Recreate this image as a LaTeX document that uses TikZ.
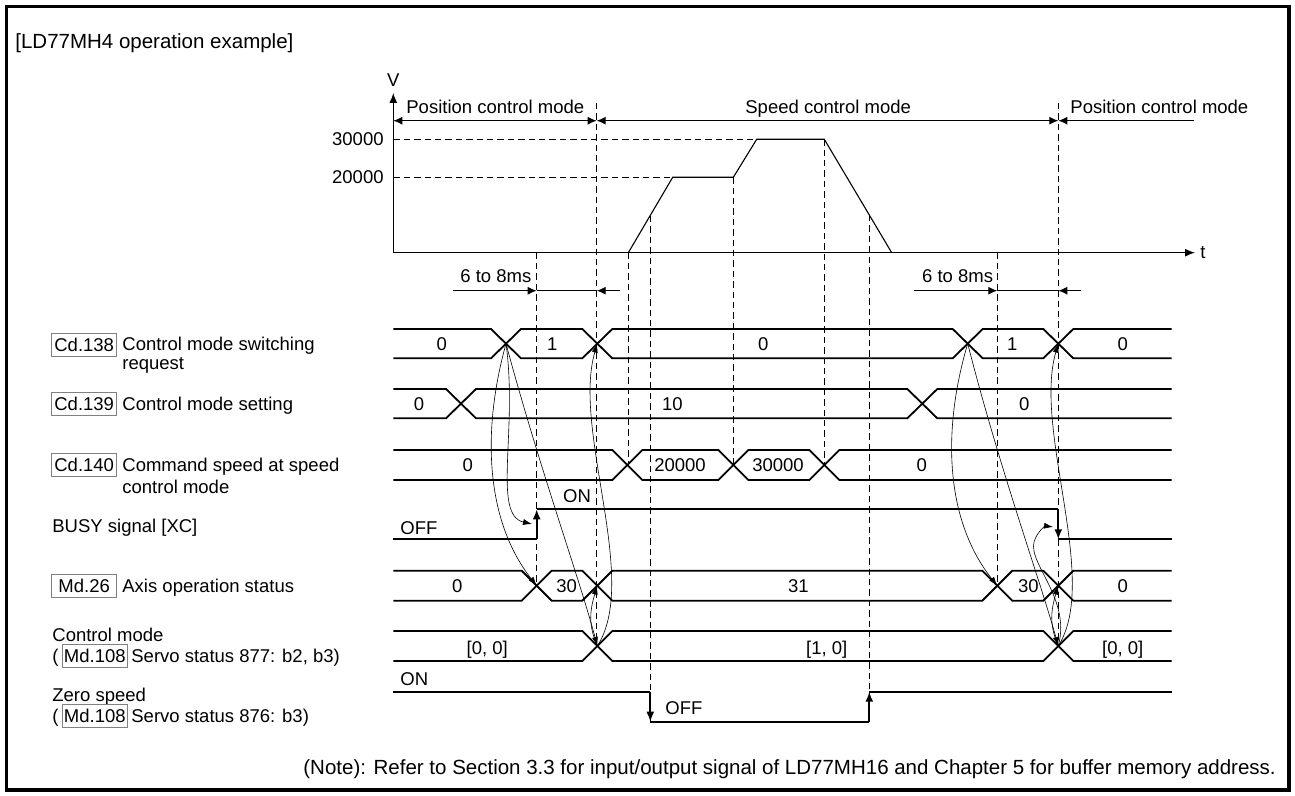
\documentclass[tikz,border=0pt]{standalone}
\usepackage{fontspec}
\setmainfont{Liberation Sans}
\usetikzlibrary{arrows.meta}
\begin{document}
\begin{tikzpicture}[x=0.5pt,y=-0.5pt,
  sig/.style={line width=0.9pt, line join=miter},
  axisline/.style={line width=0.55pt},
  dline/.style={line width=0.5pt, dash pattern=on 3.2pt off 2pt},
  cur/.style={line width=0.3pt, -{Latex[length=4.5pt,width=3pt]}},
  bigtip/.style={-{Latex[length=5pt,width=4pt]}},
  lbl/.style={font=\fontsize{9.25}{10.5}\selectfont, inner sep=0pt},
  tag/.style={draw=gray, line width=0.4pt, minimum width=32.5pt, minimum height=11.5pt, inner sep=0pt, font=\fontsize{9.25}{10.5}\selectfont}
]
\useasboundingbox (0,0) rectangle (1295,796);
\draw[line width=1.6pt] (6.5,6.5) rectangle (1289,790);

% title
\node[lbl, font=\fontsize{10.25}{12}\selectfont, anchor=base west] (title) at (15,48.3) {[LD77MH4 operation example]};

% ---------- speed graph ----------
\node[lbl] (vlab) at (393.3,80) {V};
\coordinate (orig) at (393.3,252.7);
\coordinate (vtop) at (393.3,93);
\coordinate (tend) at (1195,252.7);
\draw[axisline, bigtip] (orig) -- (vtop);
\draw[axisline, bigtip] (orig) -- (tend);
\node[lbl, anchor=west] (tlab) at (1200,252.7) {t};

\node[lbl, anchor=east] (v30) at (384,139.3) {30000};
\node[lbl, anchor=east] (v20) at (384,177.3) {20000};
\draw[dline] (393.3,139.3) -- (756.7,139.3);
\draw[dline] (393.3,177.3) -- (672.7,177.3);
\draw[axisline] (628.3,252.7) -- (672.7,177.3) -- (733.3,177.3) -- (756.7,139.3) -- (824.3,139.3) -- (891.7,252.7);

% mode arrows
\coordinate (mA) at (393.3,120.7);
\coordinate (mB) at (596.7,120.7);
\coordinate (mC) at (1058.3,120.7);
\coordinate (mD) at (1194.3,120.7);
\draw[axisline, {Latex[length=4.5pt,width=4pt]}-{Latex[length=4.5pt,width=4pt]}] (mA) -- (mB);
\draw[axisline, {Latex[length=4.5pt,width=4pt]}-{Latex[length=4.5pt,width=4pt]}] (mB) -- (mC);
\draw[axisline, {Latex[length=4.5pt,width=4pt]}-] (mC) -- (mD);
\node[lbl, anchor=base west] (pcm1) at (406,113.3) {Position control mode};
\node[lbl, anchor=base west] (scm) at (745,113.3) {Speed control mode};
\node[lbl, anchor=base west] (pcm2) at (1070,113.3) {Position control mode};

% dashed verticals
\draw[dline] (596.7,103) -- (596.7,646);
\draw[dline] (1058.3,103) -- (1058.3,646);
\draw[dline] (536.7,252.7) -- (536.7,585.7);
\draw[dline] (628,252.7) -- (628,465);
\draw[dline] (650.3,216) -- (650.3,721.7);
\draw[dline] (733.3,177.3) -- (733.3,465);
\draw[dline] (824.3,139.3) -- (824.3,465);
\draw[dline] (869.3,215) -- (869.3,721.7);
\draw[dline] (997.3,252.7) -- (997.3,585.7);

% 6 to 8 ms
\draw[axisline, -{Latex[length=4.5pt,width=4pt]}] (452.7,290.7) -- (536.7,290.7);
\draw[axisline] (536.7,290.7) -- (596.7,290.7);
\draw[axisline, -{Latex[length=4.5pt,width=4pt]}] (620,290.7) -- (596.7,290.7);
\node[lbl, anchor=base west] (d1) at (460,282.6) {6 to 8ms};
\draw[axisline, -{Latex[length=4.5pt,width=4pt]}] (914,290.7) -- (997.3,290.7);
\draw[axisline] (997.3,290.7) -- (1058.3,290.7);
\draw[axisline, -{Latex[length=4.5pt,width=4pt]}] (1081,290.7) -- (1058.3,290.7);
\node[lbl, anchor=base west] (d2) at (921.7,282.6) {6 to 8ms};

% ---------- left labels ----------
\node[tag] (t138) at (84.2,344.5) {Cd.138};
\node[lbl, anchor=base west] (l138a) at (122,351) {Control mode switching};
\node[lbl, anchor=base west] (l138b) at (122,370) {request};
\node[tag] (t139) at (84.2,403.5) {Cd.139};
\node[lbl, anchor=base west] (l139) at (122,410) {Control mode setting};
\node[tag] (t140) at (84.2,465) {Cd.140};
\node[lbl, anchor=base west] (l140a) at (122,471.6) {Command speed at speed};
\node[lbl, anchor=base west] (l140b) at (122,493) {control mode};
\node[lbl, anchor=base west] (lbusy) at (52,532.6) {BUSY signal [XC]};
\node[tag] (t26) at (84.2,585.7) {Md.26};
\node[lbl, anchor=base west] (l26) at (122,592.3) {Axis operation status};
\node[lbl, anchor=base west] (lcm) at (52,641.6) {Control mode};
\node[lbl, anchor=base west] (lcmp) at (52,662.6) {(};
\node[tag] (t108a) at (94.8,656) {Md.108};
\node[lbl, anchor=base west] (lcmb) at (131,662.6) {Servo status 877: b2, b3)};
\node[lbl, anchor=base west] (lzs) at (52,701.6) {Zero speed};
\node[lbl, anchor=base west] (lzsp) at (52,722.6) {(};
\node[tag] (t108b) at (94.8,716) {Md.108};
\node[lbl, anchor=base west] (lzsb) at (131,722.6) {Servo status 876: b3)};

% ---------- signals ----------
% Cd.138  yt=329 yb=358.3
\draw[sig] (393.3,329) -- (491,329) -- (521,358.3) -- (582.3,358.3) -- (612.3,329) -- (952.7,329) -- (982.7,358.3) -- (1043.3,358.3) -- (1073.3,329) -- (1171.7,329);
\draw[sig] (393.3,358.3) -- (491,358.3) -- (521,329) -- (582.3,329) -- (612.3,358.3) -- (952.7,358.3) -- (982.7,329) -- (1043.3,329) -- (1073.3,358.3) -- (1171.7,358.3);
\node[lbl] at (441.7,344.3) {0};
\node[lbl] at (552.3,344.3) {1};
\node[lbl] at (763.3,344.3) {0};
\node[lbl] at (1012.3,344.3) {1};
\node[lbl] at (1122.7,344.3) {0};

% Cd.139 yt=389 yb=418.3
\draw[sig] (393.3,389) -- (446,389) -- (476,418.3) -- (907.3,418.3) -- (937.3,389) -- (1171.7,389);
\draw[sig] (393.3,418.3) -- (446,418.3) -- (476,389) -- (907.3,389) -- (937.3,418.3) -- (1171.7,418.3);
\node[lbl] at (419,404) {0};
\node[lbl] at (672.3,404) {10};
\node[lbl] at (1024.3,404) {0};

% Cd.140 yt=450 yb=480
\draw[sig] (393.3,450) -- (612.3,450) -- (642.3,480) -- (718.3,480) -- (748.3,450) -- (809.3,450) -- (839.3,480) -- (1171.7,480);
\draw[sig] (393.3,480) -- (612.3,480) -- (642.3,450) -- (718.3,450) -- (748.3,480) -- (809.3,480) -- (839.3,450) -- (1171.7,450);
\node[lbl] at (467.7,465) {0};
\node[lbl] at (680,465) {20000};
\node[lbl] at (778,465) {30000};
\node[lbl] at (921.7,465) {0};

% BUSY
\coordinate (bu0) at (536.7,539.3);
\coordinate (bu1) at (536.7,509.3);
\coordinate (bd0) at (1058.3,509.3);
\coordinate (bd1) at (1058.3,539.3);
\draw[sig] (393.3,539.3) -- (bu0);
\draw[sig, bigtip] (bu0) -- (bu1);
\draw[sig] (bu1) -- (bd0);
\draw[sig, bigtip] (bd0) -- (bd1);
\draw[sig] (bd1) -- (1171.7,539.3);
\node[lbl, anchor=base west] at (562.7,502.6) {ON};
\node[lbl, anchor=base west] at (400,534) {OFF};

% Md.26 yt=570.7 yb=600.7
\draw[sig] (393.3,570.7) -- (521.7,570.7) -- (551.7,600.7) -- (582.3,600.7) -- (612.3,570.7) -- (982.3,570.7) -- (1012.3,600.7) -- (1043.3,600.7) -- (1073.3,570.7) -- (1171.7,570.7);
\draw[sig] (393.3,600.7) -- (521.7,600.7) -- (551.7,570.7) -- (582.3,570.7) -- (612.3,600.7) -- (982.3,600.7) -- (1012.3,570.7) -- (1043.3,570.7) -- (1073.3,600.7) -- (1171.7,600.7);
\node[lbl] at (457.3,585.7) {0};
\node[lbl] at (566.7,585.7) {30};
\node[lbl] at (798.3,585.7) {31};
\node[lbl] at (1028.3,585.7) {30};
\node[lbl] at (1122.7,585.7) {0};

% Control mode yt=631 yb=661
\draw[sig] (393.3,631) -- (582.3,631) -- (612.3,661) -- (1043.3,661) -- (1073.3,631) -- (1171.7,631);
\draw[sig] (393.3,661) -- (582.3,661) -- (612.3,631) -- (1043.3,631) -- (1073.3,661) -- (1171.7,661);
\node[lbl, anchor=base] at (487.3,654.6) {[0, 0]};
\node[lbl, anchor=base] at (826.7,654.6) {[1, 0]};
\node[lbl, anchor=base] at (1122.7,654.6) {[0, 0]};

% Zero speed
\coordinate (z0) at (650.3,691.7);
\coordinate (z1) at (650.3,721.7);
\coordinate (z2) at (869.3,721.7);
\coordinate (z3) at (869.3,691.7);
\draw[sig] (393.3,691.7) -- (z0);
\draw[sig, bigtip] (z0) -- (z1);
\draw[sig] (z1) -- (z2);
\draw[sig, bigtip] (z2) -- (z3);
\draw[sig] (z3) -- (1171.7,691.7);
\node[lbl, anchor=base west] at (400,685) {ON};
\node[lbl, anchor=base west] at (665,714) {OFF};

% ---------- cause arrows ----------
\coordinate (c138a) at (506,343.7);
\coordinate (c138b) at (597.3,343.7);
\coordinate (c138c) at (967.7,343.7);
\coordinate (c138d) at (1058.3,343.7);
\coordinate (m26a) at (536.7,585.7);
\coordinate (m26b) at (597.3,585.7);
\coordinate (m26c) at (997.3,585.7);
\coordinate (m26d) at (1058.3,585.7);
\coordinate (cma) at (597.3,646);
\coordinate (cmb) at (1058.3,646);
\coordinate (busyA) at (532,524);
\coordinate (busyB) at (1053,527);

\draw[cur] (c138a) .. controls (482,430) and (485,520) .. (m26a);
\draw[cur] (c138a) .. controls (518,430) and (492,515) .. (busyA);
\draw[cur] (c138a) .. controls (540,470) and (580,580) .. (cma);
\draw[cur] (cma) .. controls (640,580) and (572,430) .. (c138b);
\draw[cur] (cma) .. controls (588,625) and (590,610) .. (m26b);

\draw[cur] (c138c) .. controls (942,430) and (945,520) .. (m26c);
\draw[cur] (c138c) .. controls (1000,470) and (1040,580) .. (cmb);
\draw[cur] (cmb) .. controls (1100,580) and (1033,430) .. (c138d);
\draw[cur] (cmb) .. controls (1049,625) and (1051,610) .. (m26d);
\draw[cur] (cmb) .. controls (1072,595) and (1022,560) .. (1036,537) .. controls (1040,529) and (1046,526) .. (busyB);

% note
\node[lbl, font=\fontsize{10.25}{12}\selectfont, anchor=base west] (note) at (303,774.6) {(Note): Refer to Section 3.3 for input/output signal of LD77MH16 and Chapter 5 for buffer memory address.};
\end{tikzpicture}
\end{document}
